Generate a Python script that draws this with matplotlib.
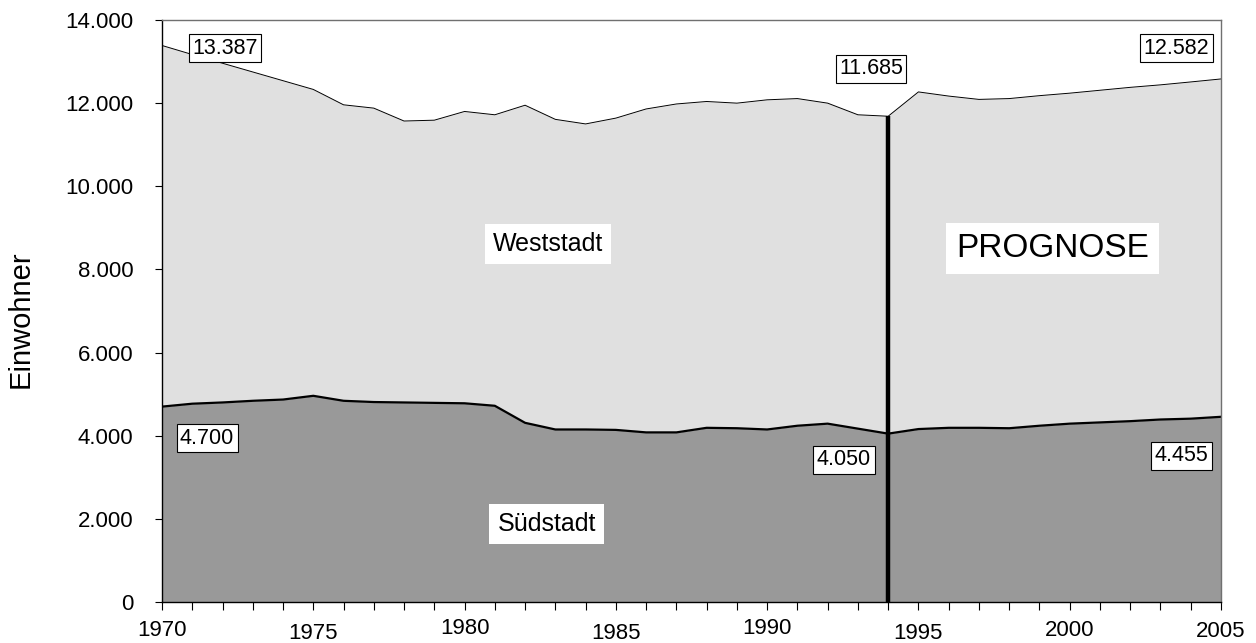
import numpy as np
import matplotlib.pyplot as plt
from matplotlib.ticker import FuncFormatter, MultipleLocator

plt.rcParams['font.family'] = ['Liberation Sans', 'DejaVu Sans']

years = np.arange(1970, 2006)
gesamt = [13387, 13170, 12960, 12750, 12540, 12330, 11960, 11880, 11570, 11590,
          11800, 11720, 11950, 11610, 11500, 11640, 11860, 11980, 12040, 12000,
          12080, 12110, 12000, 11720, 11685, 12270, 12170, 12090, 12110, 12180,
          12240, 12310, 12380, 12440, 12510, 12582]
suedstadt = [4700, 4770, 4800, 4840, 4870, 4960, 4840, 4810, 4800, 4790,
             4780, 4720, 4310, 4150, 4150, 4140, 4080, 4080, 4190, 4180,
             4150, 4240, 4290, 4170, 4050, 4160, 4190, 4190, 4180, 4240,
             4290, 4320, 4350, 4390, 4410, 4455]
prognose_ab = 1994
jahr_ticks = [1970, 1975, 1980, 1985, 1990, 1995, 2000, 2005]

# value labels: (x, y, text)
wert_labels = [(1972.09, 13320, '13.387'), (1971.49, 3940, '4.700'),
               (1993.43, 12830, '11.685'), (1992.54, 3420, '4.050'),
               (2003.53, 13320, '12.582'), (2003.70, 3520, '4.455')]

fig = plt.figure(figsize=(12.56, 6.43), dpi=100)
ax = fig.add_axes([162/1256, 1 - 602/643, (1221 - 162)/1256, (602 - 20)/643])

ax.fill_between(years, 0, suedstadt, color='#999999', lw=0)
ax.fill_between(years, suedstadt, gesamt, color='#e0e0e0', lw=0)
ax.plot(years, gesamt, color='black', lw=0.7)
ax.plot(years, suedstadt, color='black', lw=1.6)

i = list(years).index(prognose_ab)
ax.vlines(prognose_ab, 0, gesamt[i], color='black', lw=3.2, zorder=4)

ax.set_xlim(1970, 2005)
ax.set_ylim(0, 14000)

# Bereichsbeschriftungen
ax.text(1982.76, 8610, 'Weststadt', fontsize=18, ha='center', va='center',
        bbox=dict(facecolor='white', edgecolor='none', pad=6))
ax.text(1982.72, 1880, 'Südstadt', fontsize=18, ha='center', va='center',
        bbox=dict(facecolor='white', edgecolor='none', pad=6))
ax.text(1999.43, 8500, 'PROGNOSE', fontsize=24, ha='center', va='center',
        bbox=dict(facecolor='white', edgecolor='none', pad=7))

for x, y, t in wert_labels:
    ax.text(x, y, t, fontsize=15.5, ha='center', va='center', zorder=5,
            bbox=dict(facecolor='white', edgecolor='black', lw=0.8, pad=2.5))

ax.yaxis.set_major_locator(MultipleLocator(2000))
ax.yaxis.set_major_formatter(FuncFormatter(lambda v, p: f'{v:,.0f}'.replace(',', '.')))
ax.set_xticks(jahr_ticks)
ax.xaxis.set_minor_locator(MultipleLocator(1))
ax.tick_params(axis='y', direction='out', length=5, width=0.8, pad=15.5, labelsize=16)
ax.tick_params(axis='x', which='both', direction='out', length=6, width=0.8, labelsize=16)

# versetzte Jahreszahlen
pads = [7.0, 9.0, 5.8, 9.0, 5.8, 9.0, 7.0, 8.0]
for tick, p in zip(ax.xaxis.get_major_ticks(), pads):
    tick.set_pad(p)

ax.set_ylabel('Einwohner', fontsize=21)
ax.yaxis.set_label_coords(-0.120, 0.486)

for s in ['left', 'bottom']:
    ax.spines[s].set_color('black')
    ax.spines[s].set_linewidth(1.0)
for s in ['top', 'right']:
    ax.spines[s].set_color('#707070')
    ax.spines[s].set_linewidth(1.0)

fig.savefig('out.png', dpi=100)
